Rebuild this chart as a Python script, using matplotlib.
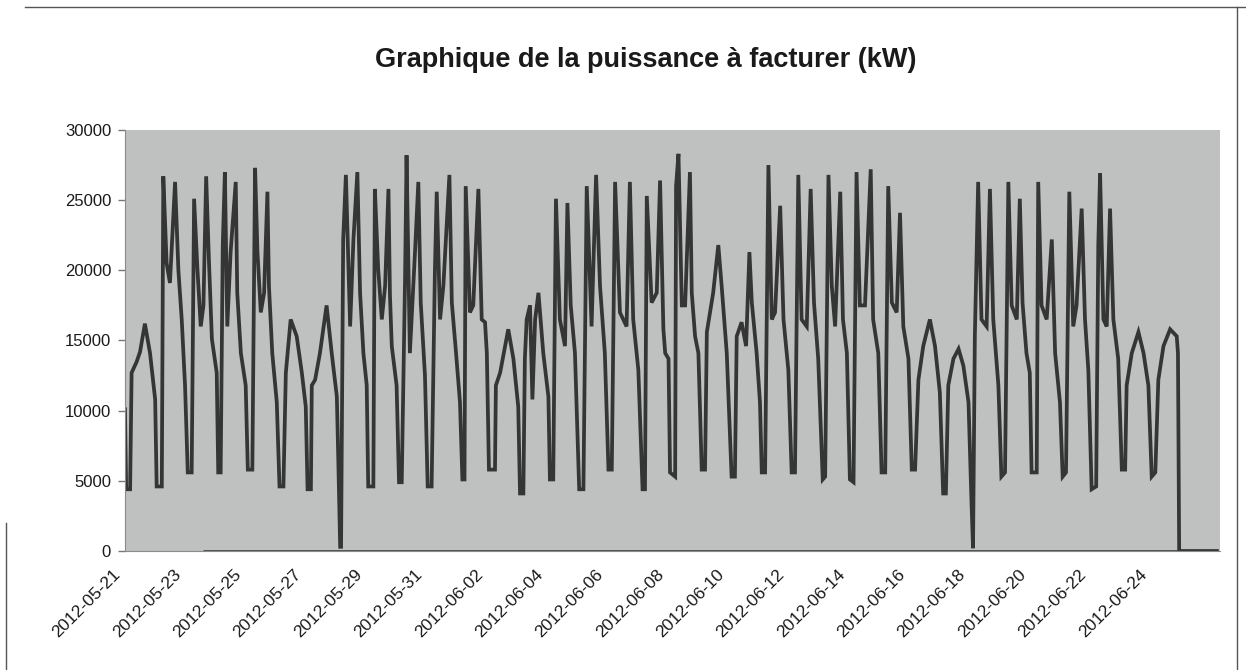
"""
Graphique de la puissance à facturer (kW) - relevés du 2012-05-21 au 2012-06-25
"""

import matplotlib
matplotlib.use("Agg")
import matplotlib.pyplot as plt
from matplotlib.lines import Line2D
from matplotlib.transforms import ScaledTranslation
import pandas as pd

plt.rcParams['font.family'] = ['Liberation Sans', 'DejaVu Sans']

# Time origin of the readings (days are counted from here)
origin = pd.Timestamp('2012-05-20 18:29')

# Readings taken off the chart, grouped one line per day
t_days = [
    0.23, 0.27, 0.40, 0.45, 0.62, 0.73, 0.89, 1.06, 1.23, 1.28, 1.45,
    1.50, 1.61, 1.72, 1.89, 2.00, 2.11, 2.22, 2.31, 2.44,
    2.52, 2.63, 2.74, 2.83, 2.92, 3.01, 3.11, 3.27, 3.32, 3.40,
    3.47, 3.54, 3.62, 3.73, 3.90, 3.95, 4.07, 4.23, 4.30, 4.45,
    4.54, 4.62, 4.73, 4.84, 4.95, 5.00, 5.11, 5.26, 5.35, 5.48,
    5.56, 5.72, 5.92, 6.09, 6.22, 6.28, 6.39,
    6.42, 6.53, 6.69, 6.91, 7.08, 7.25, 7.30, 7.36, 7.39,
    7.46, 7.55, 7.69, 7.80, 7.93, 8.02, 8.13, 8.24, 8.29, 8.46,
    8.51, 8.62, 8.74, 8.85, 8.96, 9.01, 9.07, 9.23, 9.31, 9.40,
    9.51, 9.56, 9.67, 9.84, 9.95, 10.03, 10.17, 10.26, 10.39,
    10.50, 10.56, 10.67, 10.78, 10.98, 11.06, 11.20, 11.33, 11.41, 11.48,
    11.52, 11.66, 11.77, 11.94, 12.05, 12.16, 12.22, 12.29, 12.49,
    12.52, 12.66, 12.93, 13.10, 13.26, 13.32, 13.43,
    13.48, 13.54, 13.65, 13.73, 13.82, 13.93, 14.09, 14.26, 14.31, 14.42,
    14.51, 14.64, 14.81, 14.89, 15.00, 15.14, 15.28, 15.42,
    15.53, 15.69, 15.84, 15.97, 16.13, 16.25, 16.36,
    16.47, 16.63, 16.85, 16.96, 17.07, 17.24, 17.38, 17.46,
    17.52, 17.68, 17.85, 17.96, 18.07, 18.13, 18.24, 18.29, 18.46,
    18.49, 18.57, 18.68, 18.79, 18.95, 19.01, 19.12, 19.23, 19.34, 19.45,
    19.51, 19.72, 19.89, 20.00, 20.17, 20.33, 20.44,
    20.50, 20.66, 20.81, 20.92, 21.00, 21.16, 21.27, 21.33, 21.44,
    21.55, 21.66, 21.77, 21.94, 22.05, 22.21, 22.32, 22.43,
    22.54, 22.65, 22.82, 22.95, 23.06, 23.20, 23.35, 23.43,
    23.54, 23.65, 23.76, 23.93, 24.02, 24.15, 24.25, 24.37,
    24.47, 24.58, 24.75, 24.94, 25.02, 25.19, 25.30, 25.42,
    25.52, 25.64, 25.80, 25.91, 26.02, 26.19, 26.30, 26.41,
    26.52, 26.68, 26.90, 27.07, 27.23, 27.34, 27.43,
    27.51, 27.68, 27.85, 28.01, 28.18, 28.28, 28.33,
    28.39, 28.50, 28.61, 28.78, 28.89, 29.00, 29.17, 29.27, 29.39,
    29.50, 29.61, 29.78, 29.88, 29.97, 30.10, 30.21, 30.27, 30.44,
    30.49, 30.60, 30.77, 30.94, 31.05, 31.21, 31.30, 31.41,
    31.52, 31.65, 31.76, 31.93, 32.04, 32.15, 32.26, 32.41,
    32.48, 32.54, 32.65, 32.76, 32.87, 32.98, 33.14, 33.26, 33.37,
    33.42, 33.59, 33.81, 33.98, 34.14, 34.25, 34.37,
    34.47, 34.64, 34.86, 35.08, 35.12, 35.16, 36.41,
]

kw = [
    10100, 4400, 4400, 12700, 13500, 14200, 16200, 14100, 10800, 4600, 4600,
    26700, 20500, 19100, 26300, 20000, 16500, 11800, 5600, 5600,
    25100, 20100, 16000, 17500, 26700, 20800, 15100, 12700, 5600, 5600,
    21800, 27000, 16000, 21300, 26300, 18400, 14100, 11800, 5800, 5800,
    27300, 21300, 17000, 18400, 25600, 18900, 14100, 10600, 4600, 4600,
    12700, 16500, 15300, 12700, 10300, 4400, 4400,
    11800, 12200, 14100, 17500, 14100, 11000, 6300, 300, 300,
    22200, 26800, 16000, 22200, 27000, 18400, 14100, 11800, 4600, 4600,
    25800, 20100, 16500, 18900, 25800, 18200, 14600, 11800, 4900, 4900,
    19400, 28200, 14100, 21300, 26300, 17700, 12500, 4600, 4600,
    20100, 25600, 16500, 18900, 26800, 17700, 14100, 10600, 5100, 5100,
    26000, 17000, 17500, 25800, 16500, 16300, 14100, 5800, 5800,
    11800, 12700, 15800, 13700, 10300, 4100, 4100,
    13700, 16500, 17500, 10800, 16500, 18400, 14100, 11000, 5100, 5100,
    25100, 16500, 14600, 24800, 17500, 14100, 4400, 4400,
    26000, 16000, 26800, 18900, 14100, 5800, 5800,
    26300, 17000, 16000, 26300, 16500, 12900, 4400, 4400,
    25300, 17700, 18400, 26400, 15800, 14100, 13700, 5600, 5300,
    26000, 28300, 17500, 17500, 27000, 18400, 15300, 14100, 5800, 5800,
    15600, 18400, 21800, 18900, 14100, 5300, 5300,
    15300, 16300, 14600, 21300, 17700, 14100, 10600, 5600, 5600,
    27500, 16500, 17000, 24600, 16500, 12900, 5600, 5600,
    26800, 16500, 16000, 25800, 17700, 13700, 5100, 5300,
    26800, 18900, 16000, 25600, 16500, 14100, 5100, 4900,
    27000, 17500, 17500, 27200, 16500, 14100, 5600, 5600,
    26000, 17700, 17000, 24100, 16000, 13700, 5800, 5800,
    12200, 14600, 16500, 14600, 11300, 4100, 4100,
    11800, 13700, 14400, 13200, 10600, 3400, 200,
    15300, 26300, 16500, 16000, 25800, 16500, 11800, 5300, 5600,
    26300, 17500, 16500, 25100, 17700, 14100, 12700, 5600, 5600,
    26300, 17500, 16500, 22200, 14100, 10600, 5300, 5600,
    25600, 16000, 17500, 24400, 16500, 12900, 4400, 4600,
    21800, 26900, 16500, 16000, 24400, 16500, 13700, 5800, 5800,
    11800, 14100, 15600, 14100, 11800, 5300, 5600,
    12200, 14600, 15800, 15300, 14100, 0, 0,
]

# Flat zero series running along the bottom of the plot
zero_days = [2.82, 36.45]
zero_kw = [0, 0]

y_ticks = [0, 5000, 10000, 15000, 20000, 25000, 30000]
x_ticks = pd.date_range('2012-05-21', '2012-06-24', freq='2D')

times = origin + pd.to_timedelta(t_days, unit='D')
zero_times = origin + pd.to_timedelta(zero_days, unit='D')

fig = plt.figure(figsize=(12.46, 6.70), dpi=100)
ax = fig.add_axes([0.1003, 0.1776, 0.8787, 0.6284])
ax.set_facecolor('#bfc1c1')

ax.plot(zero_times, zero_kw, color='#2e2e2e', linewidth=1.8, solid_capstyle='butt')
ax.plot(times, kw, color='#353535', linewidth=2.7, solid_joinstyle='miter')

ax.set_ylim(0, 30000)
ax.set_xlim(pd.Timestamp('2012-05-21 00:00'), pd.Timestamp('2012-06-26 06:40'))

ax.set_yticks(y_ticks)
ax.set_yticklabels([str(v) for v in y_ticks])
ax.set_xticks(x_ticks)
ax.set_xticklabels([d.strftime('%Y-%m-%d') for d in x_ticks])

ax.tick_params(axis='y', length=5, width=1, color='#777777', labelsize=12, pad=5,
               labelcolor='#1a1a1a')
ax.tick_params(axis='x', length=0, labelsize=12.5, pad=15, labelcolor='#1a1a1a')

# Excel style slanted date labels, ending just left of each date
shift = ScaledTranslation(-5 / 72, 0, fig.dpi_scale_trans)
for label in ax.get_xticklabels():
    label.set_rotation(45)
    label.set_rotation_mode('anchor')
    label.set_ha('right')
    label.set_va('center')
    label.set_transform(label.get_transform() + shift)

for side in ['top', 'right']:
    ax.spines[side].set_visible(False)
ax.spines['left'].set_color('#8a8a8a')
ax.spines['bottom'].set_color('#8a8a8a')

fig.text(0.518, 0.91, 'Graphique de la puissance à facturer (kW)',
         ha='center', va='center', fontsize=19.5, fontweight='bold', color='#1a1a1a')

# Chart frame (partly visible on the scan)
frame = dict(color='#555555', linewidth=1.0, transform=fig.transFigure)
fig.add_artist(Line2D([0.02, 1.0], [0.9896, 0.9896], **frame))
fig.add_artist(Line2D([0.9928, 0.9928], [0.0, 0.9896], **frame))
fig.add_artist(Line2D([0.005, 0.005], [0.0, 0.22], **frame))

fig.savefig('out.png', dpi=100)
